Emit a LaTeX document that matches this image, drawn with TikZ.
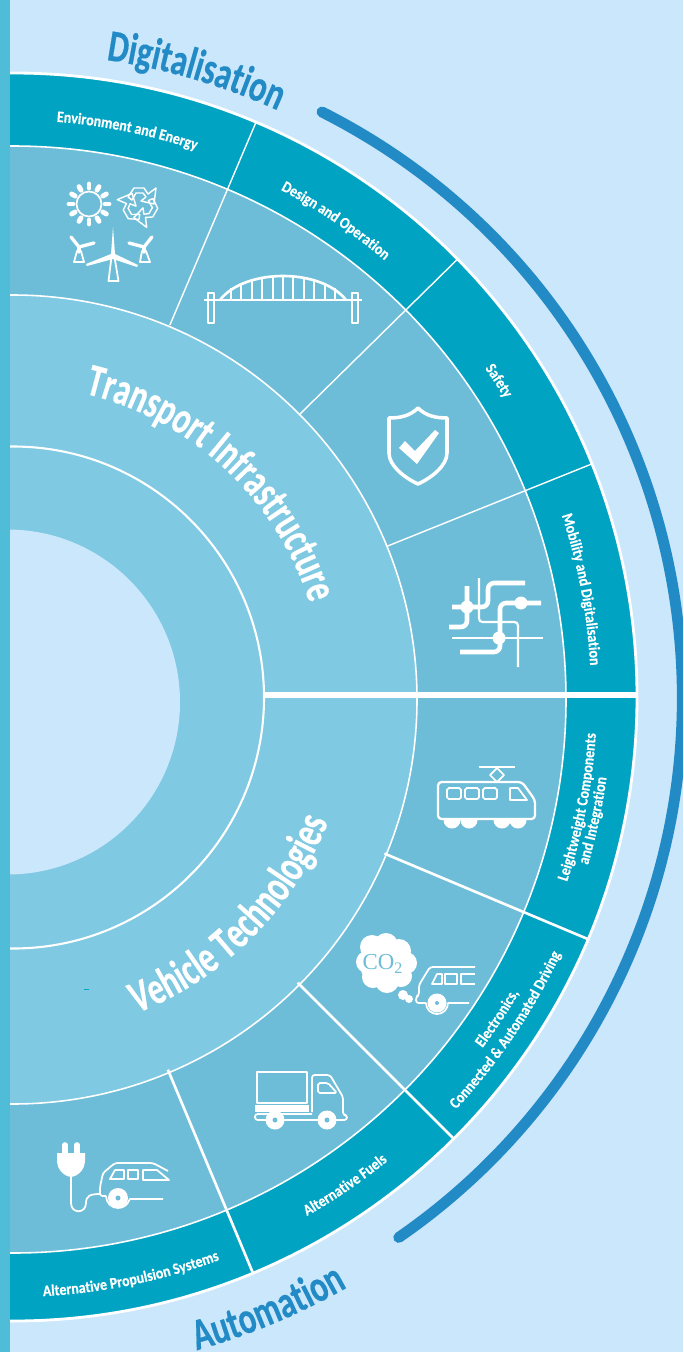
\documentclass[tikz,border=0pt]{standalone}
\usepackage{fontspec}
\usepackage{xcolor}
\usetikzlibrary{decorations.text}
\newfontfamily\bandfont[FakeStretch=0.88,FakeBold=0.4]{Carlito Bold}
\newfontfamily\titlefont[FakeStretch=0.70,FakeBold=0.5]{Carlito Bold}
\newfontfamily\outerfont[FakeStretch=0.73,FakeBold=0.4]{Carlito Bold}
\newfontfamily\cofont{Liberation Serif}
\definecolor{pagebg}{HTML}{CBE7FB}
\definecolor{stripe}{HTML}{4FBCD8}
\definecolor{bandteal}{HTML}{00A3C1}
\definecolor{sectorblue}{HTML}{6EBDD8}
\definecolor{ringblue}{HTML}{7FC9E3}
\definecolor{arcblue}{HTML}{228BC6}
% text along an arc: font, start angle, end angle, radius, text
\newcommand{\arclabel}[5]{\path[decorate,decoration={text along path,text align=center,
    text={|#1|#5}}] (#2:#4) arc (#2:#3:#4);}
\newcommand{\bandfmt}{\color{white}\bandfont\fontsize{9pt}{9pt}\selectfont}
\newcommand{\innerfmt}{\color{white}\titlefont\fontsize{26pt}{26pt}\selectfont}
\newcommand{\outerfmt}{\color{arcblue}\outerfont\fontsize{25.5pt}{25.5pt}\selectfont}
\begin{document}
\begin{tikzpicture}[
    x=0.02cm, y=0.02cm,
    ringline/.style={draw=white, line width=0.9pt},
    thinsep/.style={draw=white, line width=0.8pt},
    thicksep/.style={draw=white, line width=1.5pt},
    icon/.style={draw=white, line width=1.3pt, line join=round, line cap=round},
    iconthin/.style={draw=white, line width=1pt, line join=round},
    metro/.style={draw=white, line width=2.6pt, rounded corners=3.5pt},
    metrothin/.style={draw=white, line width=1.2pt, rounded corners=2pt}
]
    \useasboundingbox (0,0) rectangle (683,-1352);
    \fill[pagebg] (0,0) rectangle (683,-1352);

    % Rings, outside to inside
    \begin{scope}
        \clip (10,0) rectangle (683,-1352);
        \fill[bandteal] (13,-697) circle [radius=624];
        \draw[draw=white, line width=1.6pt] (13,-697) circle [radius=624];
        \fill[sectorblue] (12.5,-699.5) circle [radius=553.5];
        \draw[ringline] (12.5,-699.5) circle [radius=553.5];
        \fill[ringblue] (12.5,-699.5) circle [radius=404.5];
        \draw[ringline] (12.5,-699.5) circle [radius=404.5];
        \draw[draw=white, line width=1.2pt] (13,-697.5) circle [radius=251];
        \fill[pagebg] (7.5,-702) circle [radius=172.5];
        \draw[arcblue, line width=6.2pt, line cap=round] (322,-112) arc (63.2:-55.4:656);
    \end{scope}
    \fill[stripe] (0,0) rectangle (10,-1352);
    \fill[bandteal] (84,-988.5) rectangle (89,-989.5);

    % Dividers and arcs around one centre
    \begin{scope}[shift={(12,-697)}]
        \foreach \ang in {67,44.5,21.9} {
            \draw[thinsep] (\ang:404) -- (\ang:624);
        }
        \foreach \ang in {-22.8,-45,-67.3} {
            \draw[thicksep] (\ang:404) -- (\ang:624);
        }
        \draw[draw=white, line width=3.2pt] (1,2) ++(0:251) -- ++(0:373);

        % Band labels
        \arclabel{\bandfmt}{98.5}{58.5}{577}{Environment and Energy}
        \arclabel{\bandfmt}{75.8}{35.8}{574}{Design and Operation}
        \arclabel{\bandfmt}{53}{13}{576}{Safety}
        \arclabel{\bandfmt}{30.7}{-9.3}{579}{Mobility and Digitalisation}
        \arclabel{\bandfmt}{-31}{9}{585}{Leightweight Components}
        \arclabel{\bandfmt}{-32}{8}{600}{and Integration}
        \arclabel{\bandfmt}{-53.5}{-13.5}{587}{Electronics,}
        \arclabel{\bandfmt}{-54}{-14}{606}{Connected {\&} Automated Driving}
        \arclabel{\bandfmt}{-75.7}{-35.7}{597}{Alternative Fuels}
        \arclabel{\bandfmt}{-98.4}{-58.4}{600}{Alternative Propulsion Systems}

        % Titles
        \arclabel{\innerfmt}{80}{14}{312}{Transport Infrastructure}
        \arclabel{\innerfmt}{-78}{-12}{340}{Vehicle Technologies}
        \arclabel{\outerfmt}{88.6}{58.6}{644}{Digitalisation}
        \arclabel{\outerfmt}{-85.3}{-49.3}{679}{Automation}
    \end{scope}

    % Icons, in picture pixels with y pointing down
    \begin{scope}[yscale=-1]
        % --- Sun ---
        \draw[iconthin] (89,204) circle [radius=12.5];
        \foreach \ang in {0,30,...,330} {
            \draw[draw=white, line width=2.8pt, line cap=round] (89,204) ++(\ang:16) -- ++(\ang:4);
        }
        % --- Recycling ---
        \foreach \rot in {0,120,240} {
            \begin{scope}[shift={(140,205)}, rotate=\rot]
                \draw[draw=white, line width=0.8pt, line join=round] (-12,-8) -- (-6,-17) -- (4,-17) -- (8,-11) -- (16,-17)
                    -- (14,-1) -- (1,-4) -- (6,-8) -- (3,-12) -- (-4,-12) -- (-8,-5) -- cycle;
            \end{scope}
        }
        % --- Wind turbines ---
        \fill[white] (113,227) -- (115,254) -- (138,265) -- (137,267) -- (113,259) -- (87,266) -- (86,264) -- (111,254) -- cycle;
        \draw[iconthin] (108.5,281) -- (111.5,257) -- (114.5,257) -- (118.5,281) -- cycle;
        \draw[draw=white, line width=1.9pt, line cap=round] (71,237) -- (79,247) -- (94,243);
        \draw[draw=white, line width=1.9pt, line cap=round] (79,247) -- (79,252);
        \draw[iconthin] (74,262) -- (77,251) -- (81,251) -- (84,262) -- cycle;
        \draw[draw=white, line width=1.9pt, line cap=round] (152,237) -- (144,247) -- (129,243);
        \draw[draw=white, line width=1.9pt, line cap=round] (144,247) -- (144,252);
        \draw[iconthin] (140,262) -- (142,251) -- (146,251) -- (150,262) -- cycle;
        % --- Bridge ---
        \draw[draw=white, line width=1.2pt] (204,300) -- (362,300);
        \draw[iconthin] (208,293) rectangle (214,323);
        \draw[iconthin] (352,293) rectangle (358,323);
        \draw[draw=white, line width=1.5pt] (220,300) .. controls (245,268) and (321,268) .. (346,300);
        \foreach \hx/\hy in {231/288,241/283,252/279,262/277,273/275.5,283/275,293/275.5,304/277,314/279,325/283,335/288} {
            \draw[draw=white, line width=0.7pt] (\hx,\hy) -- (\hx,300);
        }
        % --- Shield ---
        \draw[draw=white, line width=2pt, line join=round] (418,408) .. controls (410,416) and (400,418) .. (389,418)
            -- (389,453) .. controls (389,466) and (405,478) .. (418,484)
            .. controls (431,478) and (447,466) .. (447,453) -- (447,418)
            .. controls (436,418) and (426,416) .. (418,408) -- cycle;
        \fill[white] (399,448) -- (405,441) -- (415,451) -- (435,430) -- (439,433) -- (417,464) -- cycle;
        % --- Transit map ---
        \draw[metro] (452,607) -- (488,607) -- (488,583) -- (525,583);
        \draw[metro] (467,586) -- (467,627) -- (449,627);
        \draw[metro] (541,603) -- (500,603) -- (500,652) -- (460,652);
        \draw[metrothin] (479,578) -- (479,622) -- (518,622) -- (518,667);
        \draw[draw=white, line width=1.2pt] (452,638) -- (543,638);
        \fill[white] (467,607) circle [radius=6.5];
        \fill[white] (521,603) circle [radius=6.5];
        \fill[white] (499,638) circle [radius=6.5];
        % --- Tram ---
        \foreach \wx in {452,469,502,518} {
            \fill[white] (\wx,820) circle [radius=8.5];
        }
        \draw[icon, fill=sectorblue, rounded corners=2pt] (438,782) -- (522,782) -- (535,800) -- (535,819) -- (438,819) -- cycle;
        \draw[iconthin, rounded corners=1pt] (447,788) rectangle (461,799);
        \draw[iconthin, rounded corners=1pt] (465,788) rectangle (479,799);
        \draw[iconthin, rounded corners=1pt] (483,788) rectangle (497,799);
        \draw[iconthin] (510,788) -- (518,788) -- (527,800) -- (510,800) -- cycle;
        \draw[draw=white, line width=1.1pt] (479,767) -- (515,767);
        \draw[iconthin] (497,767) -- (497,768) -- (504,775) -- (497,782) -- (490,775) -- (497,768);
        % --- Cloud ---
        \foreach \bx/\by/\br in {383/964/23,367/962/11,372/947/12,386/945/12,399/951/12,406/963/11,401/976/11,387/981/12,373/977/11,403/995/5,409/999/4} {
            \fill[white] (\bx,\by) circle [radius=\br];
        }
        \node[text=sectorblue, inner sep=0pt, font=\cofont\fontsize{13pt}{13pt}\selectfont] (cotext) at (383,964) {CO\textsubscript{2}};
        % --- Car by the cloud ---
        \draw[iconthin, rounded corners=1.5pt] (475,967) -- (430,967) -- (419,985) -- (419,995) -- (416,997) -- (416,1003) -- (426,1003);
        \draw[iconthin] (426,1003) arc (180:0:11) -- (469,1003);
        \fill[white] (437,1003) circle [radius=9.5];
        \fill[sectorblue] (437,1003) circle [radius=2];
        \draw[iconthin] (432,984) -- (437,974) -- (442,974) -- (442,984) -- cycle;
        \draw[iconthin] (445,974) rectangle (457,984);
        \draw[iconthin] (475,974) -- (461,974) -- (461,984) -- (475,984);
        % --- Truck ---
        \draw[iconthin] (257,1072) rectangle (307,1103);
        \fill[white] (255,1105) rectangle (309,1112);
        \draw[iconthin, rounded corners=1.5pt] (312,1112) -- (312,1075) -- (330,1075) -- (343,1097) -- (343,1115) -- (347,1115) -- (347,1120) -- (255,1120) -- (255,1114) -- (312,1114);
        \draw[iconthin, rounded corners=1pt] (318,1083) -- (328,1083) -- (337,1093) -- (318,1093) -- cycle;
        \foreach \wx in {275,327} {
            \fill[white] (\wx,1120) circle [radius=9.5];
            \fill[sectorblue] (\wx,1120) circle [radius=2.5];
        }
        % --- Plug and car ---
        \draw[draw=white, line width=3.2pt, line cap=round] (65,1145) -- (65,1155);
        \draw[draw=white, line width=3.2pt, line cap=round] (77,1145) -- (77,1155);
        \fill[white] (57,1153) -- (85,1153) -- (85,1160) .. controls (85,1170) and (78,1176) .. (71,1177) .. controls (64,1176) and (57,1170) .. (57,1160) -- cycle;
        \draw[iconthin] (71,1177) -- (71,1203) .. controls (71,1214) and (86,1214) .. (86,1203)
            .. controls (86,1196) and (90,1194) .. (100,1194);
        \draw[iconthin, rounded corners=1.5pt] (168,1171) -- (153,1163) -- (115,1163) -- (103,1173) -- (100,1187) -- (100,1196) -- (106,1196);
        \draw[iconthin] (106,1196) arc (180:20:12) -- (130,1199) -- (163,1199);
        \fill[white] (118,1198) circle [radius=10];
        \fill[sectorblue] (118,1198) circle [radius=2.5];
        \draw[iconthin] (110,1179) -- (115,1170) -- (124,1170) -- (124,1179) -- cycle;
        \draw[iconthin] (128,1170) rectangle (138,1179);
        \draw[iconthin] (143,1170) -- (157,1170) -- (169,1180) -- (143,1180) -- cycle;
    \end{scope}
\end{tikzpicture}
\end{document}
